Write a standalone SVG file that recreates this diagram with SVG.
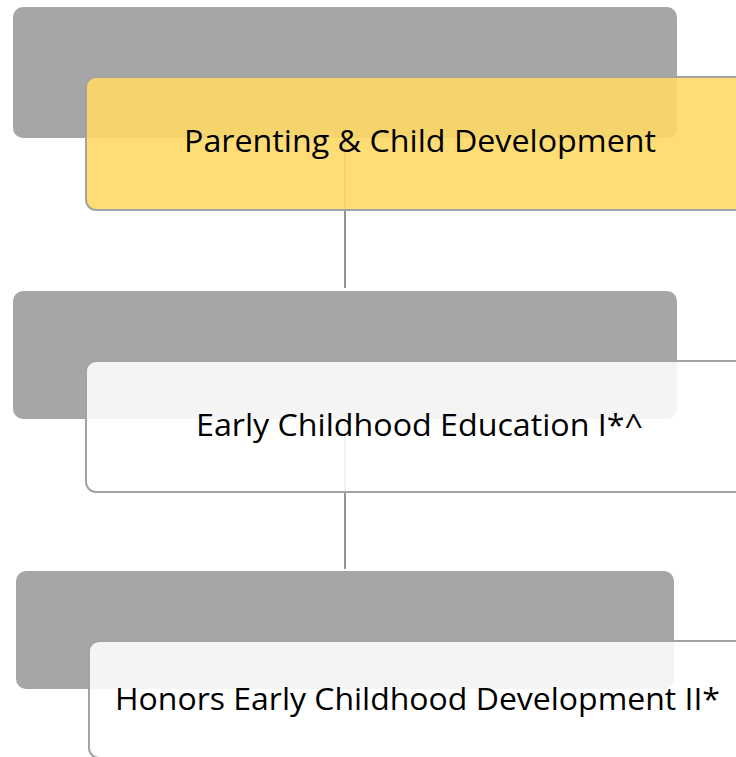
<svg xmlns="http://www.w3.org/2000/svg" width="736" height="757" viewBox="0 0 736 757">
<style>
.bg{fill:#A6A6A6;}
.card{stroke:#A3A3A3;stroke-width:2;}
.yellow{fill:#FFD966;fill-opacity:0.9;}
.white{fill:#FFFFFF;fill-opacity:0.88;}
.conn{stroke:#8A8A8A;stroke-width:1.8;fill:none;}
.lbl{font-family:"Open Sans","Noto Sans","Liberation Sans",sans-serif;font-size:31px;fill:#000000;}
</style>
<rect width="736" height="757" fill="#FFFFFF"/>
<g id="backgrounds">
<rect class="bg" x="13" y="7" width="664" height="131" rx="10"/>
<rect class="bg" x="13" y="291" width="664" height="128" rx="10"/>
<rect class="bg" x="16" y="571" width="658" height="118" rx="10"/>
</g>
<g id="connectors">
<line class="conn" x1="345" y1="138" x2="345" y2="288"/>
<line class="conn" x1="345" y1="419" x2="345" y2="569"/>
</g>
<g id="node1">
<rect class="card yellow" x="86" y="77" width="666" height="133" rx="10"/>
<text class="lbl" x="184" y="152" textLength="472" lengthAdjust="spacingAndGlyphs">Parenting &amp; Child Development</text>
</g>
<g id="node2">
<rect class="card white" x="86" y="361" width="666" height="131" rx="10"/>
<text class="lbl" x="196" y="436" textLength="447" lengthAdjust="spacingAndGlyphs">Early Childhood Education I*^</text>
</g>
<g id="node3">
<rect class="card white" x="89" y="641" width="663" height="117" rx="10"/>
<text class="lbl" x="115" y="710" textLength="605" lengthAdjust="spacingAndGlyphs">Honors Early Childhood Development II*</text>
</g>
</svg>
